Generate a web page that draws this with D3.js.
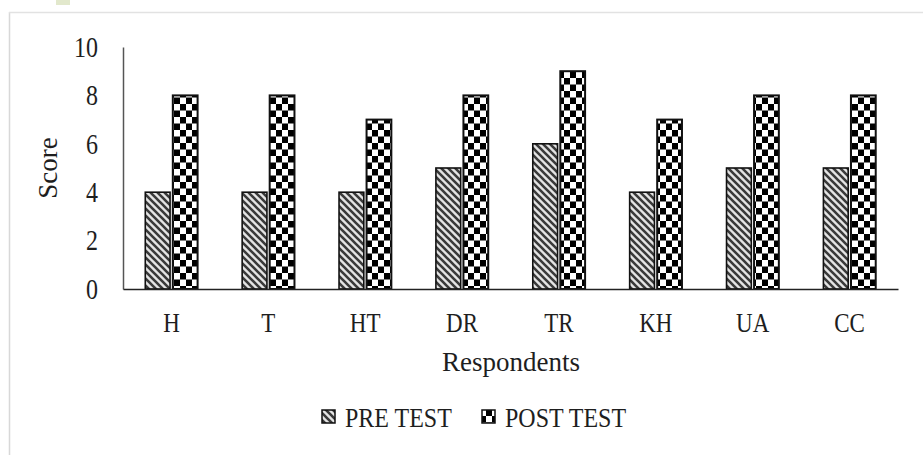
<!DOCTYPE html>
<html><head><meta charset="utf-8">
<script src="https://cdn.jsdelivr.net/npm/d3@7"></script>
<style>body{margin:0;background:#fff;} svg{display:block;}</style>
</head><body>
<svg id="chart" width="923" height="455"></svg>
<script>
const categories = ["H","T","HT","DR","TR","KH","UA","CC"];
const preTest = [4,4,4,5,6,4,5,5];
const postTest = [8,8,7,8,9,7,8,8];
const seriesNames = ["PRE TEST","POST TEST"];
const yTicks = [0,2,4,6,8,10];
const xTitle = "Respondents";
const yTitle = "Score";

const svg = d3.select("#chart");
const FONT = "'Liberation Serif','Times New Roman',serif";
const TXT = "#1e1e1e";

// frame
svg.append("line").attr("x1",9.5).attr("x2",9.5).attr("y1",12).attr("y2",455).attr("stroke","#d8d8d8").attr("stroke-width",1.5);
svg.append("line").attr("x1",9).attr("x2",923).attr("y1",12.5).attr("y2",12.5).attr("stroke","#e2e2e2").attr("stroke-width",1.5);
svg.append("rect").attr("x",56).attr("y",0).attr("width",14).attr("height",5).attr("fill","#e2e8cc");

const defs = svg.append("defs");
const hatch = defs.append("pattern").attr("id","hatch").attr("patternUnits","userSpaceOnUse").attr("width",7).attr("height",7);
hatch.append("rect").attr("width",7).attr("height",7).attr("fill","#e4e4e4");
hatch.append("path").attr("d","M0,0L7,7M-1,6L1,8M6,-1L8,1").attr("stroke","#3a3a3a").attr("stroke-width",2.6);
const checker = defs.append("pattern").attr("id","checker").attr("patternUnits","userSpaceOnUse").attr("width",12).attr("height",13);
checker.append("rect").attr("width",12).attr("height",13).attr("fill","#fff");
checker.append("rect").attr("x",0).attr("y",0).attr("width",6).attr("height",6.5).attr("fill","#000");
checker.append("rect").attr("x",6).attr("y",6.5).attr("width",6).attr("height",6.5).attr("fill","#000");
const fills = ["url(#hatch)","url(#checker)"];

const y = d3.scaleLinear().domain([0,10]).range([289,47]);
const x = d3.scaleBand().domain(categories).range([123,898]).paddingInner(0.46).paddingOuter(0.23);
const x1 = d3.scaleBand().domain(seriesNames).range([0,x.bandwidth()]).paddingInner(0.1);

// bars
const series = [preTest, postTest];
seriesNames.forEach((s,si)=>{
  svg.append("g").selectAll("rect").data(categories).join("rect")
    .attr("x",d=>x(d)+x1(s))
    .attr("y",(d,i)=>y(series[si][i]))
    .attr("width",x1.bandwidth())
    .attr("height",(d,i)=>y(0)-y(series[si][i]))
    .attr("fill",fills[si])
    .attr("stroke","#111").attr("stroke-width",si?2:1.6);
});

// y axis
const gy = svg.append("g").attr("transform","translate(123,0)")
  .call(d3.axisLeft(y).tickValues(yTicks).tickSize(0).tickSizeOuter(0).tickPadding(25));
gy.select(".domain").attr("stroke","#555").attr("stroke-width",1.5);
gy.selectAll("text").attr("font-family",FONT).attr("font-size",24).attr("fill",TXT)
  .attr("dy","0.32em").attr("transform","scale(1,1.2)");

// x axis
const gx = svg.append("g").attr("transform","translate(0,289)")
  .call(d3.axisBottom(x).tickSize(0).tickSizeOuter(0));
gx.select(".domain").attr("stroke","#222").attr("stroke-width",1.5);
gx.selectAll("text").attr("font-family",FONT).attr("font-size",23).attr("fill",TXT)
  .attr("dy",null).attr("y",43/1.2).attr("transform","scale(1,1.2)");

// titles
svg.append("text").attr("x",511).attr("y",371).attr("text-anchor","middle")
  .attr("font-family",FONT).attr("font-size",27).attr("fill",TXT).text(xTitle);
svg.append("text").attr("transform","translate(57,168) rotate(-90)").attr("text-anchor","middle")
  .attr("font-family",FONT).attr("font-size",27).attr("fill",TXT).text(yTitle);

// legend
const legX = [322, 482];
seriesNames.forEach((s,i)=>{
  svg.append("rect").attr("x",legX[i]).attr("y",410).attr("width",13).attr("height",13)
    .attr("fill",fills[i]).attr("stroke","#111").attr("stroke-width",1.5);
  svg.append("text").attr("transform",`translate(${legX[i]+23},427) scale(1,1.1)`)
    .attr("font-family",FONT).attr("font-size",24).attr("fill",TXT).text(s);
});
</script>
</body></html>
